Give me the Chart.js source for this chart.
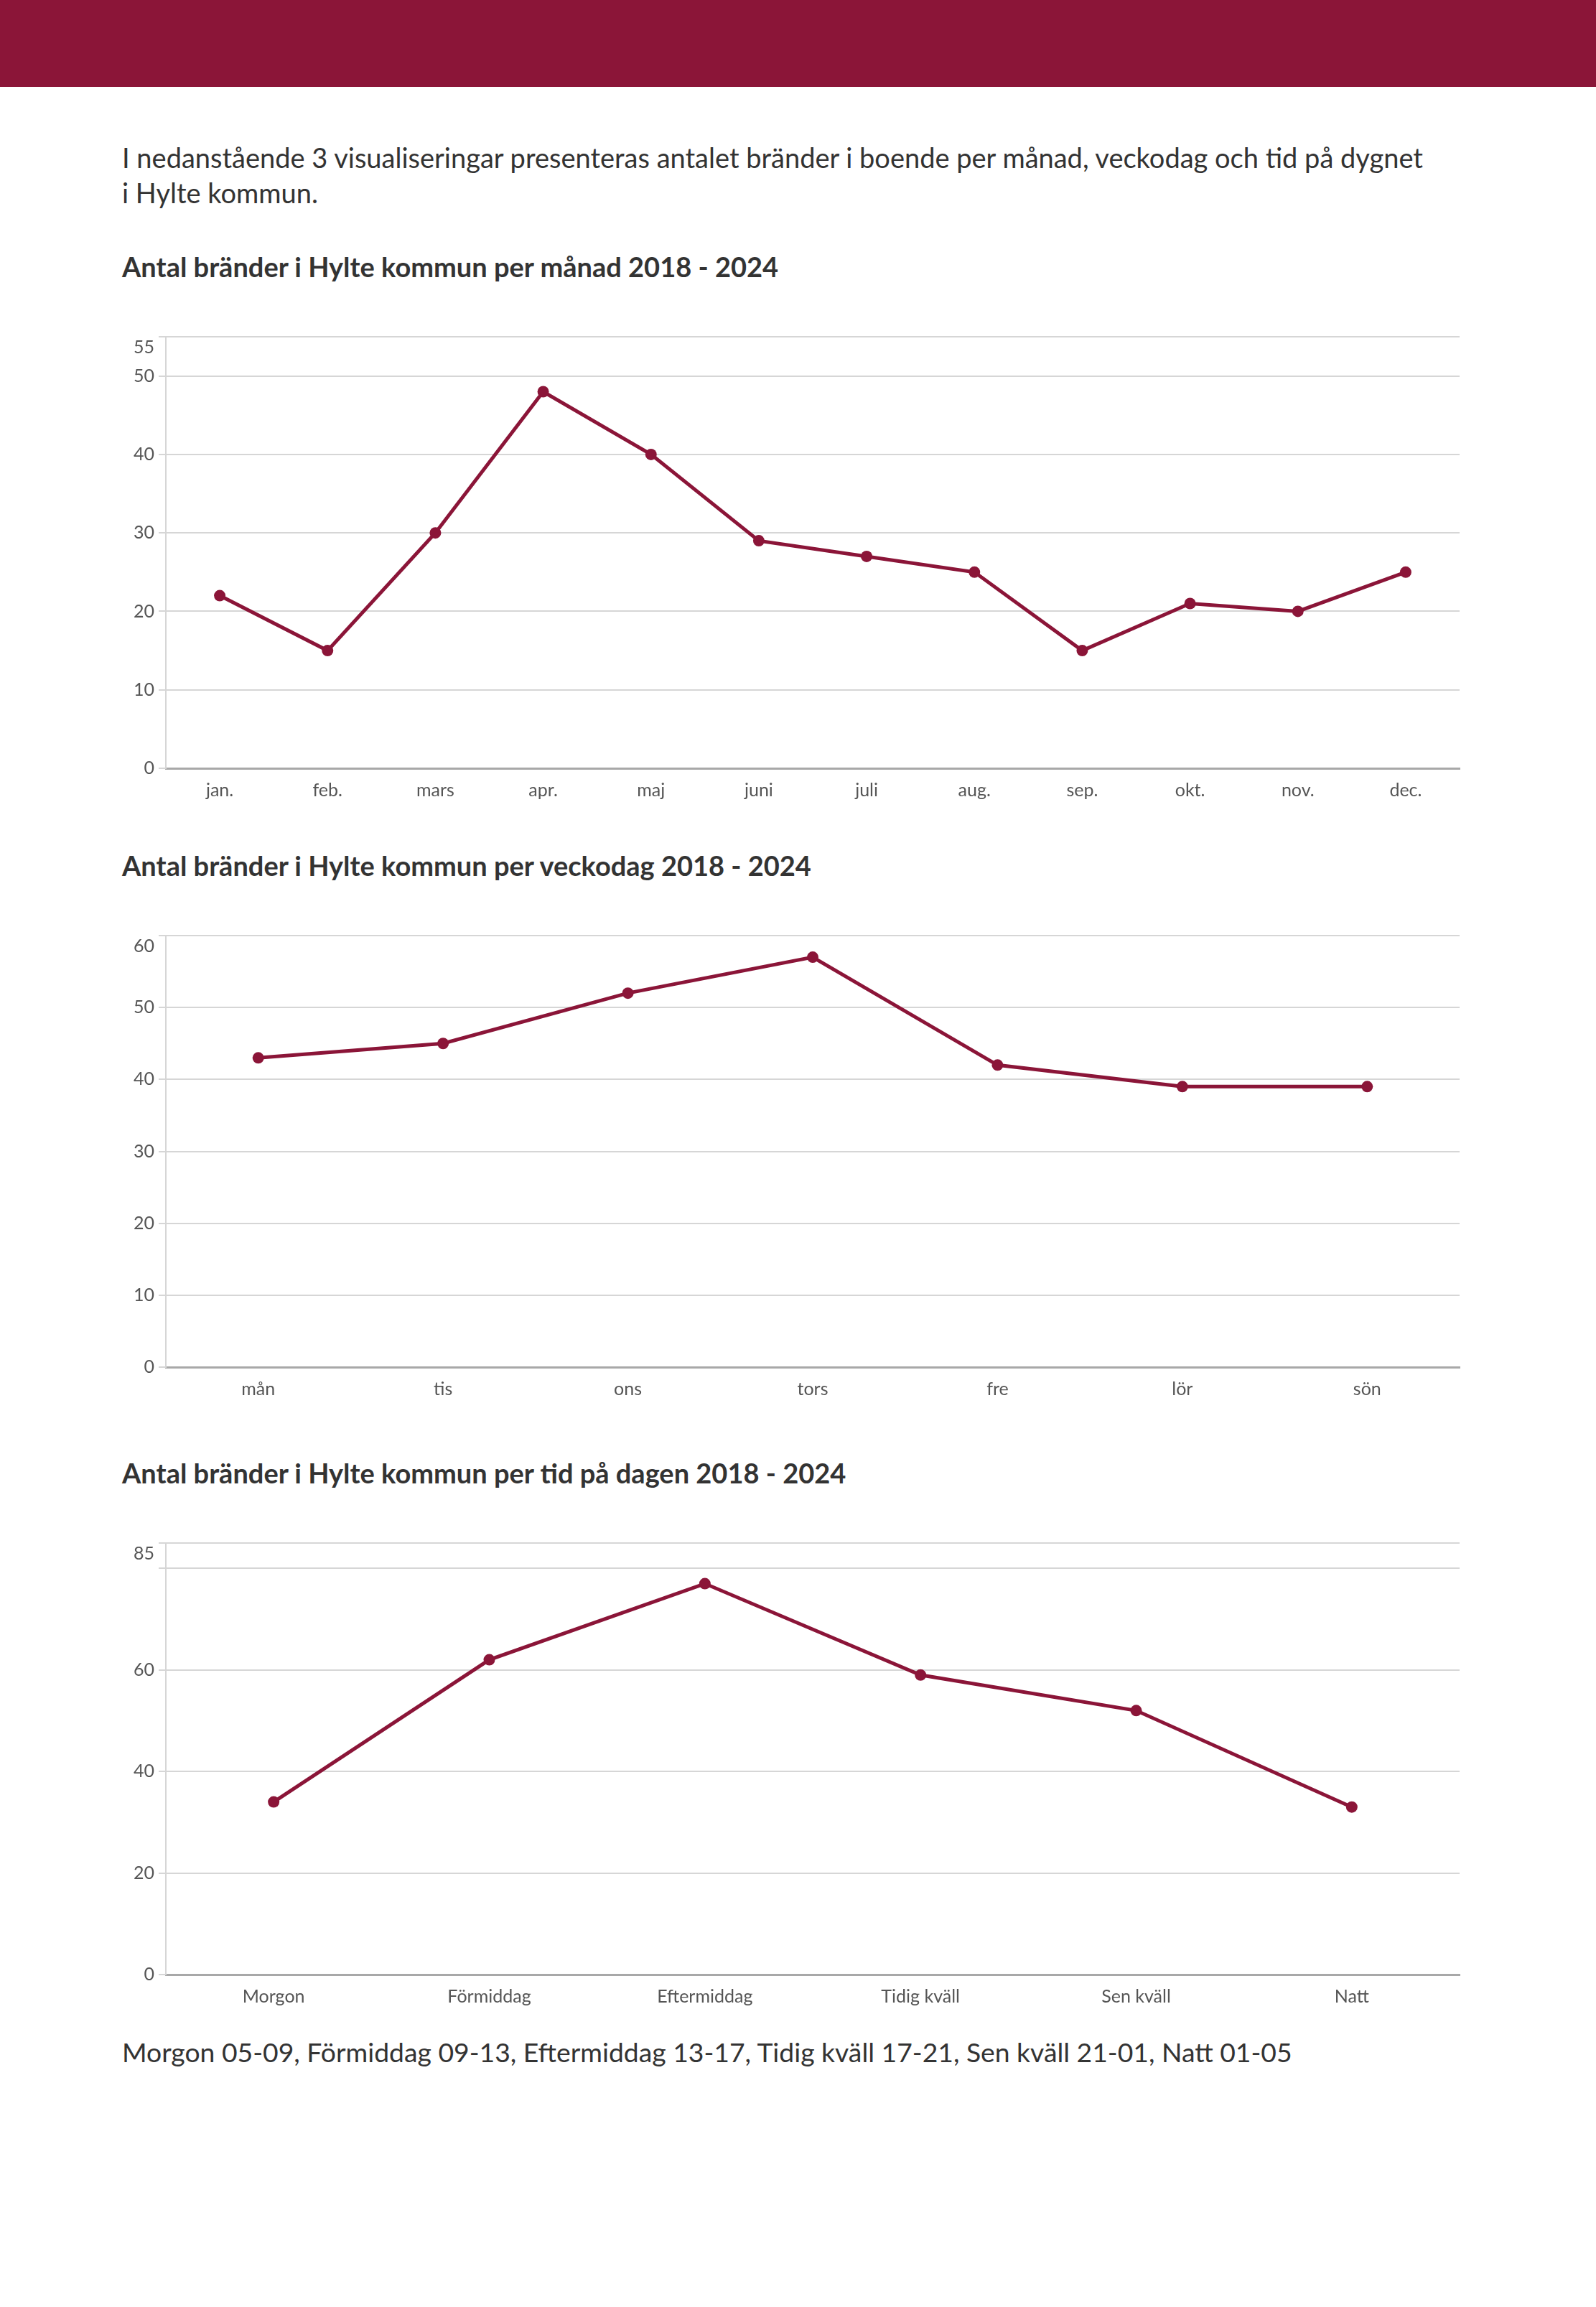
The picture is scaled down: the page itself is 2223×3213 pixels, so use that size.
<!DOCTYPE html>
<html lang="sv">
<head>
<meta charset="utf-8">
<title>Bränder i boende – Hylte kommun</title>
<script src="https://cdn.jsdelivr.net/npm/chart.js@4.4.1/dist/chart.umd.min.js"></script>
<style>
  html, body { margin: 0; padding: 0; background: #fff; }
  body { width: 2223px; height: 3213px; position: relative; font-family: Lato, 'Open Sans', sans-serif; color: #333; }
  .header { position: absolute; left: 0; top: 0; width: 2223px; height: 121px; background: #8b1538; }
  .intro { position: absolute; left: 170px; top: 195px; font-size: 38px; line-height: 49px; white-space: nowrap; }
  .title { position: absolute; left: 170px; font-size: 38px; line-height: 48px; font-weight: 700; white-space: nowrap; }
  .note { position: absolute; left: 170px; top: 2834px; font-size: 37.3px; line-height: 48px; white-space: nowrap; }
  .chart-box { position: absolute; left: 150px; width: 1891px; height: 697px; }
</style>
</head>
<body>
<div class="header"></div>
<div class="intro">I nedanstående 3 visualiseringar presenteras antalet bränder i boende per månad, veckodag och tid på dygnet<br>i Hylte kommun.</div>

<div class="title" style="top:347px">Antal bränder i Hylte kommun per månad 2018 - 2024</div>
<div class="chart-box" style="top:433px"><canvas id="chart-month"></canvas></div>

<div class="title" style="top:1181px">Antal bränder i Hylte kommun per veckodag 2018 - 2024</div>
<div class="chart-box" style="top:1267px"><canvas id="chart-weekday"></canvas></div>

<div class="title" style="top:2027px">Antal bränder i Hylte kommun per tid på dagen 2018 - 2024</div>
<div class="chart-box" style="top:2113px"><canvas id="chart-time"></canvas></div>

<div class="note">Morgon 05-09, Förmiddag 09-13, Eftermiddag 13-17, Tidig kväll 17-21, Sen kväll 21-01, Natt 01-05</div>

<script>
// ── DATA ──
const monthLabels = ['jan.', 'feb.', 'mars', 'apr.', 'maj', 'juni', 'juli', 'aug.', 'sep.', 'okt.', 'nov.', 'dec.'];
const monthValues = [22, 15, 30, 48, 40, 29, 27, 25, 15, 21, 20, 25];
const monthTicks = [0, 10, 20, 30, 40, 50, 55];

const weekdayLabels = ['mån', 'tis', 'ons', 'tors', 'fre', 'lör', 'sön'];
const weekdayValues = [43, 45, 52, 57, 42, 39, 39];
const weekdayTicks = [0, 10, 20, 30, 40, 50, 60];

const timeLabels = ['Morgon', 'Förmiddag', 'Eftermiddag', 'Tidig kväll', 'Sen kväll', 'Natt'];
const timeValues = [34, 62, 77, 59, 52, 33];
const timeTicks = [0, 20, 40, 60, 80, 85];
const timeHiddenTicks = [80];

// ── STIL ──
const lineColor = '#8b1538';
const gridColor = '#d6d6d6';
const axisColor = '#a8a8a8';
const tickFont = { family: 'Lato', size: 25 };
const tickColor = '#555';

function makeChart(id, labels, values, tickValues, hidden) {
  const top = tickValues[tickValues.length - 1];
  return new Chart(document.getElementById(id), {
    type: 'line',
    data: {
      labels: labels,
      datasets: [{
        data: values,
        borderColor: lineColor,
        backgroundColor: lineColor,
        borderWidth: 5,
        pointRadius: 8,
        pointHoverRadius: 8,
        pointBorderWidth: 0,
        tension: 0,
        fill: false
      }]
    },
    options: {
      responsive: true,
      maintainAspectRatio: false,
      animation: false,
      layout: { padding: { top: 30, right: 0, bottom: 0, left: 0 } },
      plugins: { legend: { display: false }, tooltip: { enabled: false } },
      scales: {
        x: {
          offset: true,
          grid: { display: false },
          border: { display: true, color: axisColor, width: 3 },
          ticks: { font: tickFont, color: tickColor, padding: 8, maxRotation: 0, autoSkip: false },
          afterFit: (scale) => { scale.height = 60; }
        },
        y: {
          min: 0,
          max: top,
          grid: { color: gridColor, lineWidth: 2, tickLength: 10, tickColor: gridColor },
          border: { display: true, color: gridColor, width: 2 },
          ticks: {
            font: tickFont,
            color: tickColor,
            padding: 6,
            // översta etiketten hamnar en halv rad under linjen som i originalet
            callback: (v) => (hidden && hidden.includes(v)) ? '' : (v === top ? ['', String(v)] : String(v))
          },
          afterBuildTicks: (scale) => { scale.ticks = tickValues.map(v => ({ value: v })); },
          afterFit: (scale) => { scale.width = 81; }
        }
      }
    }
  });
}

makeChart('chart-month', monthLabels, monthValues, monthTicks);
makeChart('chart-weekday', weekdayLabels, weekdayValues, weekdayTicks);
makeChart('chart-time', timeLabels, timeValues, timeTicks, timeHiddenTicks);
</script>
</body>
</html>
